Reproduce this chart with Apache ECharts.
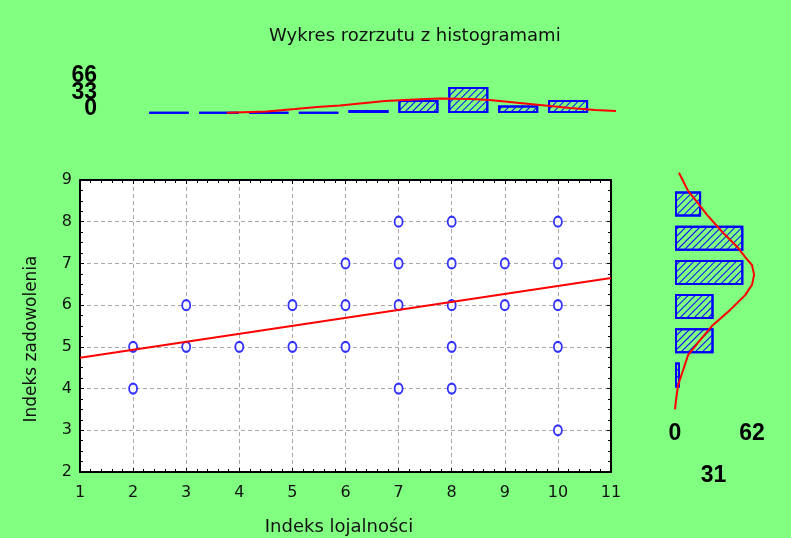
<!DOCTYPE html>
<html>
<head>
<meta charset="utf-8">
<script src="https://cdn.jsdelivr.net/npm/echarts@6/dist/echarts.min.js"></script>
<style>
html,body{margin:0;padding:0;background:#80ff80;}
#c{width:791px;height:538px;}
</style>
</head>
<body>
<div id="c"></div>
<script>
// ---- data ----
const titleText = 'Wykres rozrzutu z histogramami';
const xName = 'Indeks lojalności';
const yName = 'Indeks zadowolenia';

const scatterX = [2,2,3,3,4,5,5,6,6,6,7,7,7,7,8,8,8,8,8,9,9,10,10,10,10,10];
const scatterY = [5,4,6,5,5,6,5,7,6,5,8,7,6,4,8,7,6,5,4,7,6,8,7,6,5,3];

const regX = [1, 11];
const regY = [4.74, 6.65];

const xTicks = [1, 11, 1];   // min, max, step
const yTicks = [2, 9, 1];

const topHistX = [2,3,4,5,6,7,8,9,10];
const topHistCounts = [1,1,1,1,6,26,52,15,26];
const topHistTicks = [0, 33, 66];
const topCurveX = [3.16,3.96,4.53,4.97,5.43,5.83,6.33,6.93,7.43,8.03,8.43,8.83,9.23,9.64,10.04,10.54,10.96];
const topCurveCount = [0.6,3,8,12,15,19,24,27,29,28,26,22,18,14,10,6,4];

const rightHistCats = ['3','4','5','6','7','8'];
const rightHistCounts = [4,31,31,55,55,21];
const rightHistTicks = [0, 31, 62];
const rightCurveY = [2.02,2.28,2.72,3.16,3.60,4.04,4.48,4.92,5.35,5.65,5.94,6.23,6.46,6.73,7.20,7.69,8.07,8.39,8.92];
const rightCurveCount = [0,0.8,2.4,6.5,10.5,20.2,30.6,44.4,56.5,62,63.7,62,56.5,50.8,37.9,25.8,17.7,10.5,3.2];

// ---- styles ----
const FONT = 'DejaVu Sans';
const BOLD = 'Liberation Sans';
const blue = '#0000ff';
const red = '#ff0000';
const green = '#80ff80';
const hatch = {
  symbol: 'rect', symbolSize: 1, dashArrayX: [[1, 0]], dashArrayY: [1, 4],
  rotation: -Math.PI / 4, color: blue
};
const barStyle = { color: green, borderColor: blue, borderWidth: 2, decal: hatch };

const chart = echarts.init(document.getElementById('c'), null, { renderer: 'canvas' });

const frameAxisCommon = {
  axisLine: { show: true, onZero: false, lineStyle: { color: '#000', width: 2 } },
  axisTick: { show: true, inside: true, length: 4, lineStyle: { color: '#000' } },
  axisLabel: { show: false },
  splitLine: { show: false }
};

const boldLabel = { fontFamily: BOLD, fontWeight: 'bold', fontSize: 23, color: '#000' };

// right-hist scale: 77 px for 62 counts; curve grid extends to 70 counts
const rPx = 77 / rightHistTicks[2];

const topHistLabelAxis = (showMid) => ({
  gridIndex: 1, type: 'value', position: 'left', offset: 0,
  min: topHistTicks[0], max: topHistTicks[2], interval: topHistTicks[1],
  axisLine: { show: false }, axisTick: { show: false }, splitLine: { show: false },
  axisLabel: Object.assign({ show: true, margin: 22, showMinLabel: true, showMaxLabel: true, hideOverlap: false,
    formatter: function (v) {
      const isMid = v === topHistTicks[1];
      return (isMid === showMid) ? '{up|' + v + '}' : '';
    },
    rich: { up: Object.assign({ padding: [0, 0, 8, 0] }, boldLabel) } }, boldLabel)
});

const G = { outerBoundsMode: 'none', containLabel: false };

const option = {
  animation: false,
  backgroundColor: green,
  title: {
    text: titleText, left: 264, top: 22,
    textStyle: { fontFamily: FONT, fontSize: 18, fontWeight: 'normal', color: '#111' }
  },
  grid: [
    Object.assign({ left: 80, top: 180, width: 531, height: 292 }, G),        // scatter
    Object.assign({ left: 119, top: 80, width: 499, height: 33 }, G),         // top histogram
    Object.assign({ left: 675, top: 187, width: 77, height: 205 }, G),        // right histogram bars
    Object.assign({ left: 675, top: 170, width: 70 * rPx, height: 240 }, G)   // right histogram curve
  ],
  xAxis: [
    { gridIndex: 0, type: 'value', min: xTicks[0], max: xTicks[1], interval: xTicks[2],
      position: 'bottom', name: xName, nameLocation: 'middle', nameGap: 46,
      nameTextStyle: { fontFamily: FONT, fontSize: 18, color: '#111', padding: [0, 13, 0, 0] },
      axisLine: { onZero: false, lineStyle: { color: '#000', width: 2 } },
      axisTick: { inside: true, length: 4, lineStyle: { color: '#000' } },
      minorTick: { show: true, splitNumber: 5, length: 3, lineStyle: { color: '#000' } },
      axisLabel: { margin: 13, fontFamily: FONT, fontSize: 16, color: '#111' },
      splitLine: { show: true, lineStyle: { color: '#a8a8a8', type: [4, 3], width: 1 } } },
    Object.assign({ gridIndex: 0, type: 'value', min: xTicks[0], max: xTicks[1], interval: xTicks[2],
      position: 'top' }, frameAxisCommon, { minorTick: { show: true, splitNumber: 5, length: 3, lineStyle: { color: '#000' } } }),
    { gridIndex: 1, type: 'value', min: 1, max: 11, show: false },
    { gridIndex: 2, type: 'value', min: rightHistTicks[0], max: rightHistTicks[2], interval: rightHistTicks[1],
      axisLine: { show: false }, axisTick: { show: false }, splitLine: { show: false },
      axisLabel: Object.assign({ show: true, margin: 30, showMinLabel: true, showMaxLabel: true, hideOverlap: false,
        formatter: function (v) { return v === rightHistTicks[1] ? '{low|' + v + '}' : String(v); },
        rich: { low: Object.assign({ padding: [42, 0, 0, 0] }, boldLabel) } }, boldLabel) },
    { gridIndex: 3, type: 'value', min: 0, max: 70, show: false }
  ],
  yAxis: [
    { gridIndex: 0, type: 'value', min: yTicks[0], max: yTicks[1], interval: yTicks[2],
      position: 'left', name: yName, nameLocation: 'middle', nameGap: 40,
      nameTextStyle: { fontFamily: FONT, fontSize: 17, color: '#111', padding: [0, 26, 0, 0] },
      axisLine: { onZero: false, lineStyle: { color: '#000', width: 2 } },
      axisTick: { inside: true, length: 4, lineStyle: { color: '#000' } },
      minorTick: { show: true, splitNumber: 4, length: 3, lineStyle: { color: '#000' } },
      axisLabel: { margin: 8, fontFamily: FONT, fontSize: 16, color: '#111' },
      splitLine: { show: true, lineStyle: { color: '#a8a8a8', type: [4, 3], width: 1 } } },
    Object.assign({ gridIndex: 0, type: 'value', min: yTicks[0], max: yTicks[1], interval: yTicks[2],
      position: 'right' }, frameAxisCommon, { minorTick: { show: true, splitNumber: 4, length: 3, lineStyle: { color: '#000' } } }),
    topHistLabelAxis(false),
    { gridIndex: 2, type: 'category', data: rightHistCats, show: false },
    { gridIndex: 3, type: 'value', min: yTicks[0], max: yTicks[1], show: false },
    topHistLabelAxis(true)
  ],
  series: [
    { type: 'scatter', xAxisIndex: 0, yAxisIndex: 0, symbol: 'emptyCircle', symbolSize: [8, 10],
      itemStyle: { color: blue, borderColor: blue, borderWidth: 2 },
      data: scatterX.map((x, i) => [x, scatterY[i]]), z: 3 },
    { type: 'line', xAxisIndex: 0, yAxisIndex: 0, symbol: 'none', clip: true,
      lineStyle: { color: red, width: 2 },
      data: regX.map((x, i) => [x, regY[i]]), z: 4 },
    { type: 'bar', xAxisIndex: 2, yAxisIndex: 2, barWidth: 40, itemStyle: barStyle,
      data: topHistX.map((x, i) => [x, topHistCounts[i]]) },
    { type: 'line', xAxisIndex: 2, yAxisIndex: 2, symbol: 'none', clip: false,
      lineStyle: { color: red, width: 2 },
      data: topCurveX.map((x, i) => [x, topCurveCount[i]]), z: 4 },
    { type: 'bar', xAxisIndex: 3, yAxisIndex: 3, barWidth: 25, itemStyle: barStyle,
      data: rightHistCounts },
    { type: 'line', xAxisIndex: 4, yAxisIndex: 4, symbol: 'none', clip: false,
      lineStyle: { color: red, width: 2 },
      data: rightCurveY.map((y, i) => [rightCurveCount[i], y]), z: 4 }
  ]
};
chart.setOption(option);
// white plot background for the scatter grid
const gridRect = chart.getModel().getComponent('grid', 0).coordinateSystem.getRect();
chart.setOption({ graphic: [{ type: 'rect', z: -1, silent: true,
  shape: { x: gridRect.x, y: gridRect.y, width: gridRect.width, height: gridRect.height },
  style: { fill: '#fff' } }] });
</script>
</body>
</html>
